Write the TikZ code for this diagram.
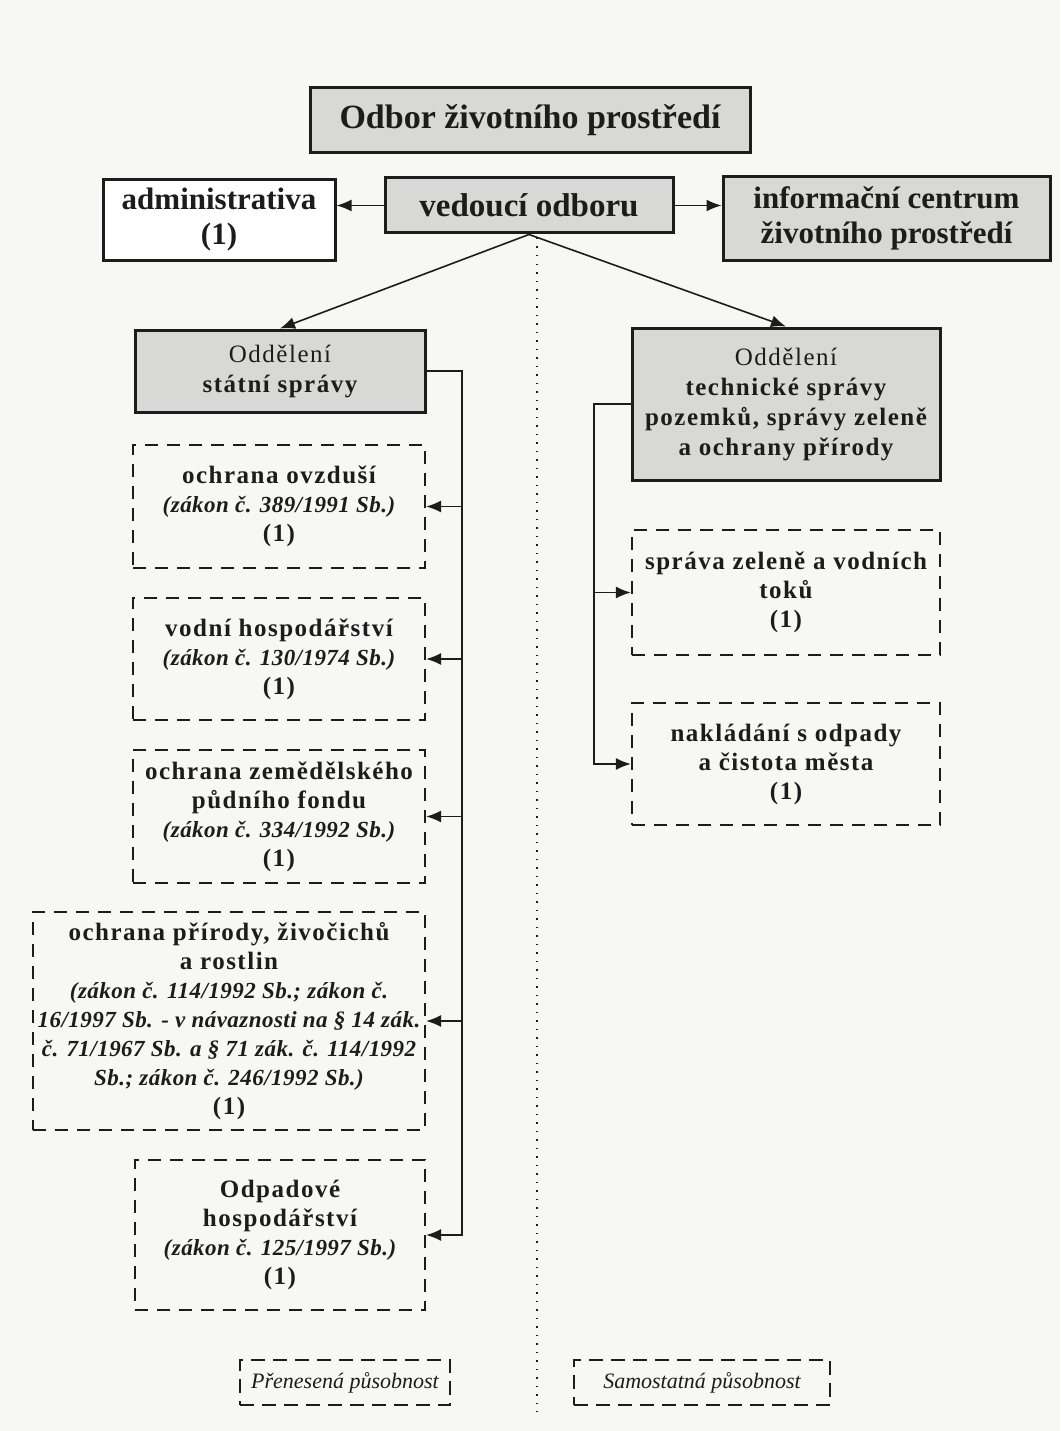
\documentclass[tikz,border=0pt]{standalone}
\usepackage{fontspec}
\setmainfont{Liberation Serif}
\newfontfamily\spacedserif[LetterSpace=6]{Liberation Serif}
\newfontfamily\lawserif[LetterSpace=2]{Liberation Serif}
\usetikzlibrary{arrows.meta}
\definecolor{ink}{HTML}{1C1C1C}
\definecolor{boxgray}{HTML}{D8D8D6}
\definecolor{bg}{HTML}{F7F7F4}
\newcommand\lawtxt{\fontsize{23}{26}\selectfont\lawserif\bfseries\itshape}
\tikzset{
  x=1pt, y=-1pt,
  thickbox/.style={draw=ink, line width=3pt, inner sep=0pt, align=center, text=ink},
  grayfill/.style={fill=boxgray},
  topfont/.style={font=\fontsize{31}{35}\selectfont\bfseries},
  deptfont/.style={font=\fontsize{25}{30}\selectfont\spacedserif\bfseries},
  dbox/.style={draw=ink, line width=2.2pt, dash pattern=on 13pt off 9pt, inner sep=0pt, align=center, text=ink,
    font=\fontsize{25}{29}\selectfont\spacedserif\bfseries},
  legend/.style={draw=ink, line width=1.8pt, dash pattern=on 14pt off 8pt, inner sep=0pt, align=center, text=ink,
    font=\fontsize{22}{26}\selectfont\itshape},
  conn/.style={draw=ink, line width=1.6pt, -{Latex[length=15pt,width=12pt]}},
  dotline/.style={draw=ink, line width=1.6pt, dash pattern=on 1.5pt off 7pt},
}
\begin{document}
\begin{tikzpicture}
\fill[bg] (0,0) rectangle (1060,1431);
\useasboundingbox (0,0) rectangle (1060,1431);

% dotted divider
\coordinate (dtop) at (537,238);
\coordinate (dbot) at (537,1412);
\draw[dotline] (dtop) -- (dbot);

% top level
\node[thickbox, grayfill, minimum width=440pt, minimum height=65pt,
  font=\fontsize{34}{38}\selectfont\bfseries] (title) at (530,120.5) {Odbor životního prostředí};
\node[thickbox, fill=white, topfont, minimum width=232pt, minimum height=80pt] (adm) at (219,220) {administrativa\\(1)};
\node[thickbox, grayfill, minimum width=288pt, minimum height=55pt,
  font=\fontsize{33}{37}\selectfont\bfseries] (ved) at (529,205.5) {vedoucí odboru};
\node[thickbox, grayfill, topfont, minimum width=327pt, minimum height=83pt] (info) at (886.5,218.5) {informační centrum\\životního prostředí};

% departments
\node[thickbox, grayfill, deptfont, minimum width=290pt, minimum height=82pt] (ss) at (280,371)
  {{\mdseries Oddělení}\\státní správy};
\node[thickbox, grayfill, deptfont, minimum width=308pt, minimum height=152pt] (ts) at (786,404)
  {{\mdseries Oddělení}\\technické správy\\pozemků, správy zeleně\\a ochrany přírody};

% left dashed boxes
\node[dbox, minimum width=292pt, minimum height=123pt] (b1) at (279,506.5)
  {ochrana ovzduší\\{\lawtxt (zákon č. 389/1991 Sb.)}\\(1)};
\node[dbox, minimum width=292pt, minimum height=122pt] (b2) at (279,659)
  {vodní hospodářství\\{\lawtxt (zákon č. 130/1974 Sb.)}\\(1)};
\node[dbox, minimum width=292pt, minimum height=133pt] (b3) at (279,816.5)
  {ochrana zemědělského\\půdního fondu\\{\lawtxt (zákon č. 334/1992 Sb.)}\\(1)};
\node[dbox, minimum width=392pt, minimum height=218pt] (b4) at (229,1021)
  {ochrana přírody, živočichů\\a rostlin\\
   {\lawtxt (zákon č. 114/1992 Sb.; zákon č.}\\
   {\lawtxt 16/1997 Sb. - v návaznosti na § 14 zák.}\\
   {\lawtxt č. 71/1967 Sb. a § 71 zák. č. 114/1992}\\
   {\lawtxt Sb.; zákon č. 246/1992 Sb.)}\\(1)};
\node[dbox, minimum width=290pt, minimum height=150pt] (b5) at (280,1235)
  {Odpadové\\hospodářství\\{\lawtxt (zákon č. 125/1997 Sb.)}\\(1)};

% right dashed boxes
\node[dbox, minimum width=308pt, minimum height=125pt] (r1) at (786,592.5)
  {správa zeleně a vodních\\toků\\(1)};
\node[dbox, minimum width=308pt, minimum height=122pt] (r2) at (786,764)
  {nakládání s odpady\\a čistota města\\(1)};

% legend
\node[legend, minimum width=210pt, minimum height=45pt] (l1) at (345,1382.5) {Přenesená působnost};
\node[legend, minimum width=256pt, minimum height=45pt] (l2) at (702,1382.5) {Samostatná působnost};

% connectors
\draw[conn] (ved.west) -- (ved.west -| adm.east);
\draw[conn] (ved.east) -- (ved.east -| info.west);
\draw[conn] (ved.south) -- (ss.north);
\draw[conn] (ved.south) -- (ts.north);

\coordinate (busL) at (462,0);
\draw[conn] (ss.east) -| (b5.east -| busL) -- (b5.east);
\draw[conn] (b1.east -| busL) -- (b1.east);
\draw[conn] (b2.east -| busL) -- (b2.east);
\draw[conn] (b3.east -| busL) -- (b3.east);
\draw[conn] (b4.east -| busL) -- (b4.east);

\coordinate (busR) at (594,0);
\draw[conn] (ts.west) -| (r2.west -| busR) -- (r2.west);
\draw[conn] (r1.west -| busR) -- (r1.west);
\end{tikzpicture}
\end{document}
